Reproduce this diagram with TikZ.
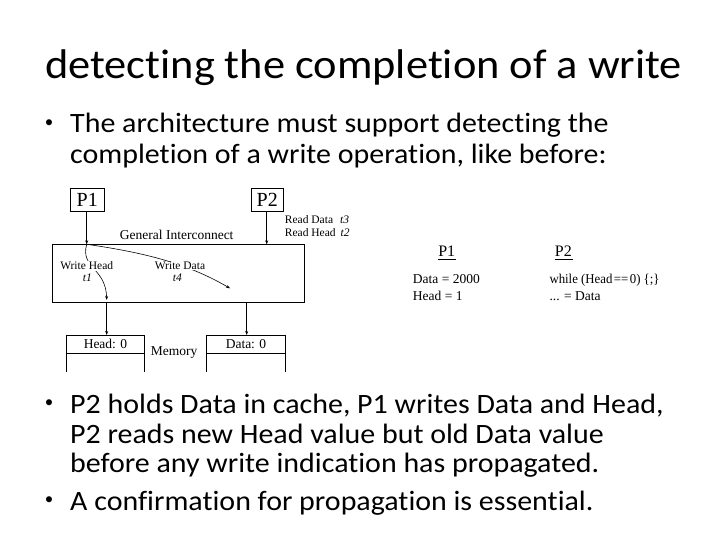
\documentclass[tikz,border=0pt]{standalone}
\usepackage{fontspec}
\setmainfont{Carlito}[Ligatures={NoCommon,NoRequired,NoContextual}]
\newfontfamily\tms{Liberation Serif}
\usetikzlibrary{arrows.meta}
\newcommand{\wide}[1]{\scalebox{1.07}[1]{#1}}
\begin{document}
\begin{tikzpicture}[x=1pt,y=-1pt,
  slide/.style={anchor=base west,inner sep=0pt,font=\fontsize{28}{34}\selectfont},
  dot/.style={anchor=center,inner sep=0pt,font=\fontsize{17}{20}\selectfont},
  fig/.style={inner sep=0pt,font=\tms\fontsize{13.5}{15}\selectfont},
  small/.style={inner sep=0pt,font=\tms\fontsize{11.5}{13}\selectfont},
  code/.style={anchor=base west,inner sep=0pt,font=\tms\fontsize{13.5}{15}\selectfont},
  wire/.style={line width=0.6pt,-{Stealth[length=4pt,width=3pt]}},
  thin/.style={line width=0.6pt}]
\useasboundingbox (0,0) rectangle (720,540);
% title and text
\node[anchor=base west,inner sep=0pt,font=\fontsize{41.5}{48}\selectfont] (title) at (45,78.5) {\wide{detecting the completion of a write}};
\node[dot] (d1) at (49,123.3) {•};
\node[slide] (b1a) at (70,132.3) {\wide{The architecture must support detecting the}};
\node[slide] (b1b) at (70,163.3) {\wide{completion of a write operation, like before:}};
\node[dot] (d2) at (49,403.3) {•};
\node[slide] (b2a) at (70,413.3) {\wide{P2 holds Data in cache, P1 writes Data and Head,}};
\node[slide] (b2b) at (70,443.5) {\wide{P2 reads new Head value but old Data value}};
\node[slide] (b2c) at (70,472) {\wide{before any write indication has propagated.}};
\node[dot] (d3) at (49,501) {•};
\node[slide] (b3) at (70,510.7) {\wide{A confirmation for propagation is essential.}};
% diagram
\draw[thin] (70.7,188) rectangle (104,211.7);
\node[inner sep=0pt,font=\tms\fontsize{20}{22}\selectfont] (p1) at (87.3,199.8) {P1};
\draw[thin] (251.3,188) rectangle (283.3,211.7);
\node[inner sep=0pt,font=\tms\fontsize{20}{22}\selectfont] (p2) at (267.3,199.8) {P2};
\draw[thin] (52.7,244.3) rectangle (304,302.3);
\coordinate (gtop1) at (86.7,244.3);
\coordinate (gtop2) at (266.7,244.3);
\coordinate (p1b) at (86.7,211.7);
\coordinate (p2b) at (266.7,211.7);
\draw[wire] (p1b) -- (gtop1);
\draw[wire] (p2b) -- (gtop2);
\node[fig] (gi) at (176.7,235) {General Interconnect};
\node[small,anchor=base west] (rd) at (284.7,223) {Read Data\hspace{7pt}\textit{t3}};
\node[small,anchor=base west] (rh) at (284.7,236.3) {Read Head\hspace{5pt}\textit{t2}};
\coordinate (wh) at (106.7,300);
\coordinate (wd) at (230,288.3);
\draw[wire] (gtop1) .. controls (80,268) and (106,268) .. (wh);
\draw[wire] (gtop1) .. controls (140,252) and (185,262) .. (wd);
\node[small,fill=white,inner sep=0.5pt] (whl) at (86.7,266) {Write Head};
\node[small,fill=white,inner sep=0.5pt] (t1) at (87.3,277.5) {\textit{t1}};
\node[small,fill=white,inner sep=0.5pt] (wdl) at (180,266) {Write Data};
\node[small,fill=white,inner sep=0.5pt] (t4) at (177.3,277.5) {\textit{t4}};
% memory
\draw[thin] (66.7,372) -- (66.7,335) -- (144.3,335) -- (144.3,372);
\draw[thin] (66.7,353.3) -- (144.3,353.3);
\draw[thin] (206.7,372) -- (206.7,335) -- (285,335) -- (285,372);
\draw[thin] (206.7,353.3) -- (285,353.3);
\node[fig] (mh) at (105.5,344) {Head: 0};
\node[fig] (md) at (246,344) {Data: 0};
\node[fig] (mem) at (174,352.3) {Memory};
\coordinate (gb1) at (106.7,302.3);
\coordinate (gb2) at (246.7,302.3);
\coordinate (mt1) at (106.7,335);
\coordinate (mt2) at (246.7,335);
\draw[wire] (gb1) -- (mt1);
\draw[wire] (gb2) -- (mt2);
% code
\node[inner sep=0pt,font=\tms\fontsize{16}{18}\selectfont] (cp1) at (446.7,251.7) {P1};
\node[inner sep=0pt,font=\tms\fontsize{16}{18}\selectfont] (cp2) at (563.3,251.7) {P2};
\draw[thin] (cp1.south west) ++(0,2.5) -- ++(18,0);
\draw[thin] (cp2.south west) ++(0,2.5) -- ++(18,0);
\node[code] (c1) at (412.7,283) {Data = 2000};
\node[code] (c2) at (412.7,300) {Head = 1};
\node[code] (c3) at (549.3,283) {\scalebox{0.95}[1]{while (Head\hspace{1.5pt}==\hspace{1.5pt}0) \{;\}}};
\node[code] (c4) at (549.3,300) {... = Data};
\end{tikzpicture}
\end{document}
